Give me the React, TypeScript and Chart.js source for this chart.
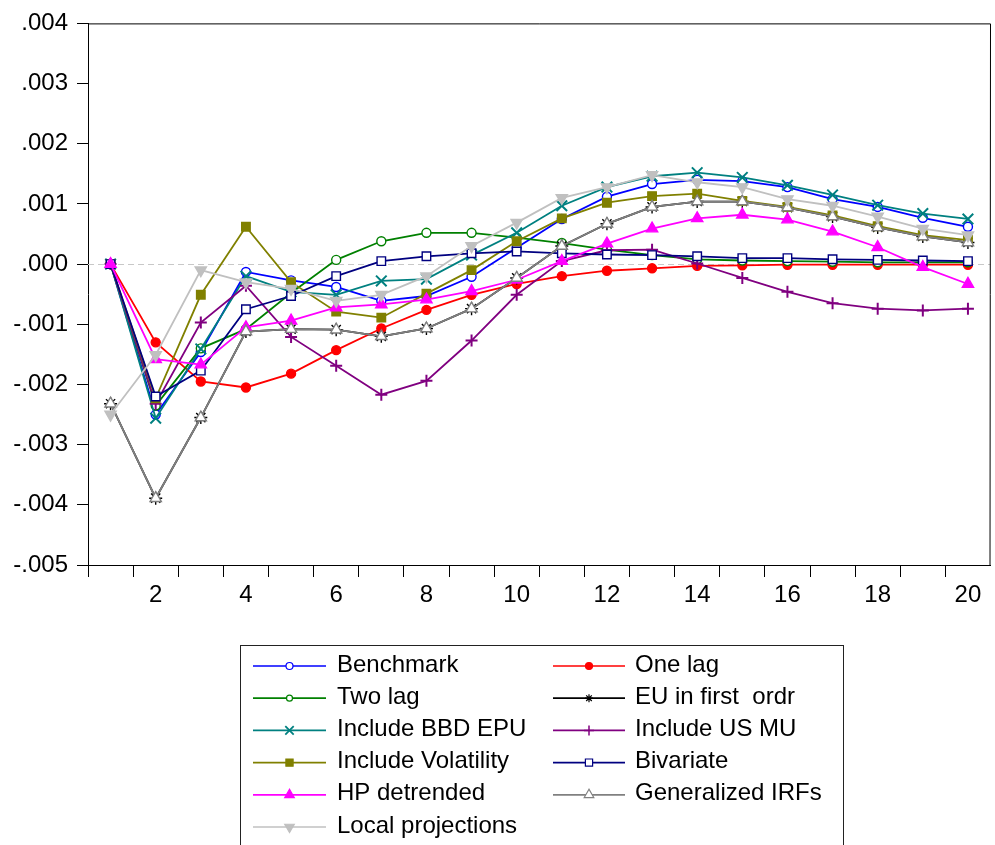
import React, { useEffect, useRef } from 'react';
import { Chart, registerables } from 'chart.js';

Chart.register(...registerables);

const periods = [1, 2, 3, 4, 5, 6, 7, 8, 9, 10, 11, 12, 13, 14, 15, 16, 17, 18, 19, 20];

const benchmark = [0, -0.0025, -0.00146, -0.00013, -0.00027, -0.00038, -0.00061, -0.00053, -0.00021, 0.00027, 0.00075, 0.00112, 0.00133, 0.0014, 0.00138, 0.00128, 0.00108, 0.00095, 0.00077, 0.00062];
const oneLag = [0, -0.0013, -0.00195, -0.00205, -0.00182, -0.00143, -0.00107, -0.00076, -0.00051, -0.00033, -0.0002, -0.00011, -0.00007, -0.00003, -0.00002, -0.00001, -0.00001, -0.00001, -0.00001, -0.00001];
const twoLag = [0, -0.00235, -0.0014, -0.00108, -0.00048, 0.00007, 0.00038, 0.00052, 0.00052, 0.00044, 0.00035, 0.00024, 0.00015, 0.00008, 0.00006, 0.00005, 0.00004, 0.00003, 0.00003, 0.00003];
const euFirstOrder = [-0.00232, -0.00389, -0.00255, -0.00112, -0.00108, -0.00109, -0.0012, -0.00107, -0.00074, -0.00023, 0.0003, 0.00067, 0.00095, 0.00104, 0.00104, 0.00094, 0.00079, 0.00061, 0.00046, 0.00036];
const bbdEpu = [0, -0.00256, -0.00141, -0.0002, -0.00046, -0.00051, -0.00028, -0.00025, 0.00015, 0.00052, 0.00097, 0.00128, 0.00146, 0.00152, 0.00144, 0.00131, 0.00115, 0.00098, 0.00084, 0.00075];
const usMu = [0, -0.00232, -0.00097, -0.00036, -0.00121, -0.00169, -0.00217, -0.00194, -0.00127, -0.00051, 0.00005, 0.00023, 0.00024, 0.00001, -0.00023, -0.00046, -0.00065, -0.00074, -0.00077, -0.00074];
const volatility = [0, -0.00223, -0.00051, 0.00062, -0.0003, -0.00079, -0.00089, -0.00049, -0.0001, 0.00038, 0.00076, 0.00102, 0.00113, 0.00117, 0.00105, 0.00095, 0.00081, 0.00063, 0.00048, 0.0004];
const bivariate = [0, -0.0022, -0.00177, -0.00075, -0.00053, -0.0002, 0.00005, 0.00013, 0.00018, 0.00021, 0.00018, 0.00016, 0.00015, 0.00013, 0.0001, 0.0001, 0.00008, 0.00007, 0.00006, 0.00005];
const hpDetrended = [0, -0.00158, -0.00167, -0.00105, -0.00094, -0.00072, -0.00067, -0.00059, -0.00045, -0.00026, 0.00005, 0.00034, 0.00059, 0.00076, 0.00082, 0.00074, 0.00054, 0.00028, -0.00005, -0.00033];
const generalizedIrfs = [-0.00232, -0.00389, -0.00255, -0.00112, -0.00108, -0.00109, -0.0012, -0.00107, -0.00074, -0.00023, 0.0003, 0.00067, 0.00095, 0.00104, 0.00104, 0.00094, 0.00079, 0.00061, 0.00046, 0.00036];
const localProjections = [-0.0025, -0.00151, -0.0001, -0.0003, -0.00041, -0.00061, -0.00051, -0.0002, 0.0003, 0.00069, 0.0011, 0.00128, 0.00148, 0.00136, 0.00128, 0.00108, 0.00097, 0.00079, 0.00059, 0.00048];

const seriesNames = [
  'Benchmark', 'One lag', 'Two lag', 'EU in first  ordr', 'Include BBD EPU', 'Include US MU',
  'Include Volatility', 'Bivariate', 'HP detrended', 'Generalized IRFs', 'Local projections',
];
const seriesValues = [benchmark, oneLag, twoLag, euFirstOrder, bbdEpu, usMu, volatility, bivariate, hpDetrended, generalizedIrfs, localProjections];

const xTickLabelValues = [2, 4, 6, 8, 10, 12, 14, 16, 18, 20];
const yTickValues = [-0.005, -0.004, -0.003, -0.002, -0.001, 0, 0.001, 0.002, 0.003, 0.004];
const yTickLabels = ['-.005', '-.004', '-.003', '-.002', '-.001', '.000', '.001', '.002', '.003', '.004'];

// styles (not data)
const styles = [
  { color: '#0000FF', fill: '#FFFFFF', point: 'circle', r: 4.5, lr: 3.5 },
  { color: '#FF0000', fill: '#FF0000', point: 'circle', r: 4.5, lr: 3.5 },
  { color: '#008000', fill: '#FFFFFF', point: 'circle', r: 4.5, lr: 3 },
  { color: '#000000', fill: '#000000', point: 'star', r: 6.5, lr: 4 },
  { color: '#008080', fill: '#008080', point: 'crossRot', r: 7.5, lr: 6 },
  { color: '#800080', fill: '#800080', point: 'cross', r: 6, lr: 5 },
  { color: '#808000', fill: '#808000', point: 'rect', r: 6, lr: 4.5 },
  { color: '#000080', fill: '#FFFFFF', point: 'rect', r: 6, lr: 4.5 },
  { color: '#FF00FF', fill: '#FF00FF', point: 'triangle', r: 6.5, lr: 5.5 },
  { color: '#808080', fill: '#FFFFFF', point: 'triangle', r: 6.5, lr: 5.5 },
  { color: '#C0C0C0', fill: '#C0C0C0', point: 'triangle', r: 6.5, lr: 5.5, rot: 180 },
];

const FONT = 'Arial, "Liberation Sans", sans-serif';

function drawMarker(ctx: CanvasRenderingContext2D, st: any, x: number, y: number) {
  const r = st.lr;
  ctx.save();
  ctx.strokeStyle = st.color;
  ctx.fillStyle = st.fill;
  ctx.lineWidth = 1.2;
  ctx.beginPath();
  switch (st.point) {
    case 'circle':
      ctx.arc(x, y, r, 0, Math.PI * 2);
      ctx.fill();
      ctx.stroke();
      break;
    case 'rect': {
      const h = r * 0.8;
      ctx.rect(x - h, y - h, 2 * h, 2 * h);
      ctx.fill();
      ctx.stroke();
      break;
    }
    case 'triangle': {
      const d = st.rot === 180 ? -1 : 1;
      ctx.moveTo(x, y - d * r);
      ctx.lineTo(x - r * 0.87, y + d * r * 0.5);
      ctx.lineTo(x + r * 0.87, y + d * r * 0.5);
      ctx.closePath();
      ctx.fill();
      ctx.stroke();
      break;
    }
    case 'cross':
      ctx.moveTo(x - r, y); ctx.lineTo(x + r, y);
      ctx.moveTo(x, y - r); ctx.lineTo(x, y + r);
      ctx.lineWidth = 1.5;
      ctx.stroke();
      break;
    case 'crossRot': {
      const h = r * 0.7;
      ctx.moveTo(x - h, y - h); ctx.lineTo(x + h, y + h);
      ctx.moveTo(x - h, y + h); ctx.lineTo(x + h, y - h);
      ctx.lineWidth = 1.8;
      ctx.stroke();
      break;
    }
    case 'star': {
      const h = r * 0.7;
      ctx.moveTo(x - r, y); ctx.lineTo(x + r, y);
      ctx.moveTo(x, y - r); ctx.lineTo(x, y + r);
      ctx.moveTo(x - h, y - h); ctx.lineTo(x + h, y + h);
      ctx.moveTo(x - h, y + h); ctx.lineTo(x + h, y - h);
      ctx.stroke();
      break;
    }
  }
  ctx.restore();
}

const decorPlugin = {
  id: 'decor',
  beforeDatasetsDraw(chart: any) {
    const { ctx, chartArea, scales } = chart;
    const y0 = Math.round(scales.y.getPixelForValue(0)) + 0.5;
    ctx.save();
    ctx.strokeStyle = '#C8C8C8';
    ctx.lineWidth = 1;
    ctx.setLineDash([6, 4]);
    ctx.beginPath();
    ctx.moveTo(chartArea.left, y0);
    ctx.lineTo(chartArea.right, y0);
    ctx.stroke();
    ctx.restore();
  },
  afterDraw(chart: any) {
    const { ctx, chartArea } = chart;
    ctx.save();
    ctx.strokeStyle = '#000';
    ctx.lineWidth = 1;
    ctx.beginPath();
    ctx.moveTo(chartArea.left, chartArea.top + 0.5);
    ctx.lineTo(chartArea.right, chartArea.top + 0.5);
    ctx.lineTo(chartArea.right - 0.5, chartArea.bottom);
    ctx.stroke();

    // legend box
    ctx.strokeStyle = '#222';
    ctx.strokeRect(240.5, 645.5, 603, 230);
    ctx.font = `24px ${FONT}`;
    ctx.textBaseline = 'middle';
    ctx.fillStyle = '#000';
    seriesNames.forEach((name, i) => {
      const col = i % 2;
      const row = Math.floor(i / 2);
      const y = 666 + row * 32.2;
      const x0 = col ? 553 : 253;
      const x1 = col ? 625 : 326;
      const st = styles[i];
      ctx.save();
      ctx.strokeStyle = st.color;
      ctx.lineWidth = 1.7;
      ctx.beginPath();
      ctx.moveTo(x0, y);
      ctx.lineTo(x1, y);
      ctx.stroke();
      ctx.restore();
      drawMarker(ctx, st, (x0 + x1) / 2, y);
      ctx.fillStyle = '#000';
      ctx.fillText(name, col ? 635 : 337, y - 1);
    });
    ctx.restore();
  },
};

export default function App() {
  const ref = useRef<HTMLCanvasElement | null>(null);

  useEffect(() => {
    if (!ref.current) return;
    const datasets = seriesNames.map((name, i) => {
      const st = styles[i];
      return {
        label: name,
        data: seriesValues[i],
        borderColor: st.color,
        backgroundColor: st.fill,
        pointStyle: st.point,
        pointRadius: st.r,
        pointBorderColor: st.color,
        pointBackgroundColor: st.fill,
        pointBorderWidth: st.point === 'crossRot' || st.point === 'cross' ? 2 : 1.4,
        pointRotation: st.rot || 0,
        borderWidth: 1.8,
        tension: 0,
        fill: false,
        order: -i,
      };
    });
    const halfTicks: number[] = [];
    for (let v = 0.5; v <= 20.01; v += 0.5) halfTicks.push(v);

    const chart = new Chart(ref.current, {
      type: 'line',
      data: { labels: periods, datasets },
      options: {
        animation: false,
        responsive: false,
        devicePixelRatio: 1,
        layout: { padding: { top: 20, left: 0, right: 1.4, bottom: 220 } },
        plugins: { legend: { display: false }, tooltip: { enabled: false } },
        scales: {
          x: {
            type: 'linear',
            min: 0.5,
            max: 20.5,
            afterBuildTicks: (s: any) => { s.ticks = halfTicks.map((v) => ({ value: v })); },
            afterFit: (s: any) => { s.height = 60; },
            grid: {
              drawOnChartArea: false,
              drawTicks: true,
              tickLength: 12,
              tickWidth: 1,
              tickColor: (c: any) => (c.tick && Number.isInteger(c.tick.value) ? 'rgba(0,0,0,0)' : '#000'),
            },
            border: { color: '#000', width: 1 },
            ticks: {
              autoSkip: false,
              maxRotation: 0,
              minRotation: 0,
              padding: 4,
              color: '#000',
              font: { family: FONT, size: 24 },
              callback: (v: any) => (xTickLabelValues.includes(v) ? String(v) : ''),
            },
          },
          y: {
            type: 'linear',
            min: -0.005,
            max: 0.004,
            afterBuildTicks: (s: any) => { s.ticks = yTickValues.map((v) => ({ value: v })); },
            afterFit: (s: any) => { s.width = 88; },
            grid: { drawOnChartArea: false, drawTicks: true, tickLength: 11, tickColor: '#000' },
            border: { color: '#000', width: 1 },
            ticks: {
              padding: 9,
              color: '#000',
              font: { family: FONT, size: 24 },
              callback: (_v: any, i: number) => yTickLabels[i],
            },
          },
        },
      },
      plugins: [decorPlugin],
    } as any);
    return () => chart.destroy();
  }, []);

  return (
    <div style={{ position: 'fixed', left: 0, top: 0, width: 995, height: 845, overflow: 'hidden', background: '#fff' }}>
      <canvas ref={ref} width={1000} height={845} style={{ width: 1000, height: 845, display: 'block' }} />
    </div>
  );
}
